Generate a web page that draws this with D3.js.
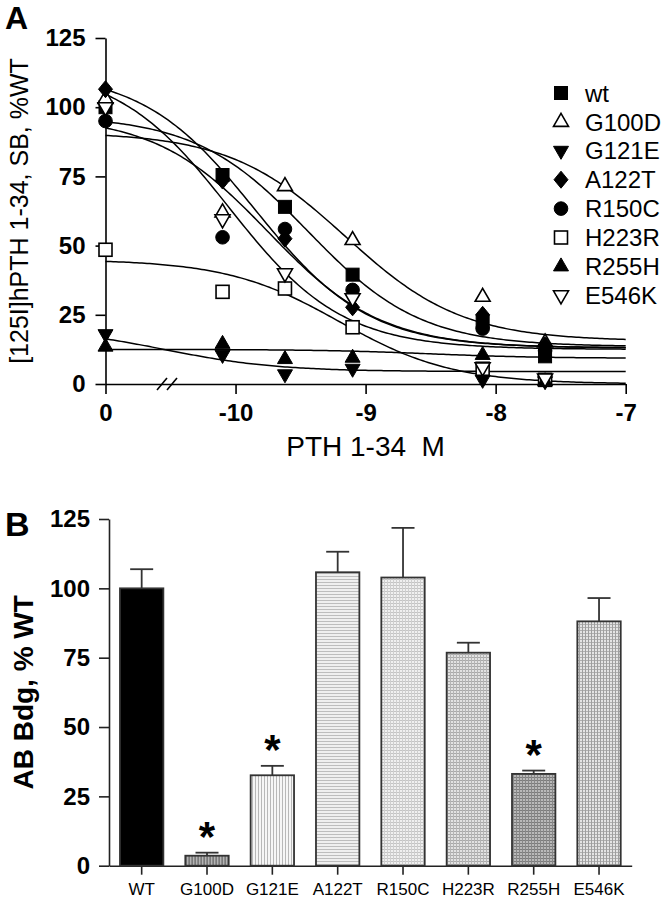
<!DOCTYPE html>
<html><head><meta charset="utf-8">
<script src="https://cdn.jsdelivr.net/npm/d3@7"></script>
<style>
html,body{margin:0;padding:0;background:#fff;}
svg{display:block;font-family:"Liberation Sans",Arial,Helvetica,sans-serif;}
</style></head>
<body>
<svg id="c" width="666" height="899"></svg>
<script>
// ---------- Panel A data ----------
const doseLog = [-11, -10.1, -9.62, -9.1, -8.1, -7.62];   // -11 is plotted at the "0" position
const seriesNames = ["wt","G100D","G121E","A122T","R150C","H223R","R255H","E546K"];
const wtVals    = [100, 75.5, 64, 39.5, 22.5, 10];
const g100dVals = [103, 62, 71.5, 52, 31.5, 15];
const g121eVals = [18, 10.5, 3.5, 5.5, 1.5, 1];
const a122tVals = [106.5, 73.5, 52.5, 27.7, 25, 14];
const r150cVals = [95, 53, 56, 34, 20, 12];
const h223rVals = [48.5, 33.3, 34.5, 20.5, 5.5, 1.5];
const r255hVals = [13.5, 14.5, 9, 9.5, 10.5, 1];
const e546kVals = [100, 59.5, 40, 31, 6, 2];
// fitted curve parameters: [top, bottom, logEC50, hill]
const wtFit    = [97, 13.5, -9.445, 1.0];
const g100dFit = [91, 15.5, -9.154, 0.97];
const g121eFit = [20.5, 4.5, -10.55, 1.0];
const a122tFit = [113, 13, -9.85, 1.0];
const r150cFit = [97, 13, -9.75, 1.0];
const h223rFit = [45, 0, -9.2, 1.0];
const r255hFit = [12.5, 9.3, -8.5, 1.0];
const e546kFit = [115, 12.5, -10.05, 1.0];
const markerTypes = ["square","triUpOpen","triDown","diamond","circle","squareOpen","triUp","triDownOpen"];
const yTicksA = [0, 25, 50, 75, 100, 125];
const xTicksA = [-11, -10, -9, -8, -7];
const xTickLabelsA = ["0", "-10", "-9", "-8", "-7"];

// ---------- Panel B data ----------
const barCats = ["WT","G100D","G121E","A122T","R150C","H223R","R255H","E546K"];
const barMeans = [100, 3.6, 32.6, 105.8, 103.9, 76.8, 33.1, 88.1];
const barSem   = [6.9, 1.1, 3.4, 7.4, 17.9, 3.6, 1.2, 8.4];
const barSig   = [false, true, true, false, false, false, true, false];
const yTicksB = [0, 25, 50, 75, 100, 125];

const svg = d3.select("#c");
const FONT = '"Liberation Sans",Arial,Helvetica,sans-serif';

// ================= PANEL A =================
const xA = d3.scaleLinear().domain([-11, -7]).range([105.5, 625.7]);
const yA = d3.scaleLinear().domain([0, 125]).range([384, 38]);

const gA = svg.append("g");
const axYA = gA.append("g").attr("transform", `translate(${xA.range()[0]},0)`)
  .call(d3.axisLeft(yA).tickValues(yTicksA).tickSize(10).tickPadding(10).tickSizeOuter(0));
const axXA = gA.append("g").attr("transform", `translate(0,${yA(0)})`)
  .call(d3.axisBottom(xA).tickValues(xTicksA).tickFormat((d,i)=>xTickLabelsA[i]).tickSize(10).tickPadding(10).tickSizeOuter(0));
[axYA, axXA].forEach(a=>{
  a.selectAll("path,line").attr("stroke","#000").attr("stroke-width",1.6);
  a.selectAll("text").attr("font-family",FONT).attr("font-size",24).attr("font-weight","bold").attr("fill","#000");
});
// axis break marks
[0, 10].forEach(off=>{
  gA.append("line").attr("x1", 157+off).attr("y1", yA(0)+6).attr("x2", 167+off).attr("y2", yA(0)-6)
    .attr("stroke","#000").attr("stroke-width",1.6);
});

// titles
gA.append("text").attr("x",5).attr("y",29).attr("font-size",32).attr("font-weight","bold").text("A");
gA.append("text").attr("transform",`translate(28,${(yA(0)+yA(125))/2}) rotate(-90)`)
  .attr("text-anchor","middle").attr("font-size",25).text("[125I]hPTH 1-34, SB, %WT");
gA.append("text").attr("x",(xA.range()[0]+xA.range()[1])/2).attr("y",456).attr("text-anchor","middle")
  .attr("font-size",28).attr("xml:space","preserve").style("white-space","pre").text("PTH 1-34  M");

const allVals = [wtVals,g100dVals,g121eVals,a122tVals,r150cVals,h223rVals,r255hVals,e546kVals];
const allFits = [wtFit,g100dFit,g121eFit,a122tFit,r150cFit,h223rFit,r255hFit,e546kFit];

function logistic(p, x){ return p[1] + (p[0]-p[1])/(1+Math.pow(10,(x-p[2])*p[3])); }
const xs = d3.range(0, 201).map(i => -11 + i*4/200);
const line = d3.line().x(d=>xA(d[0])).y(d=>yA(d[1])).curve(d3.curveLinear);
allFits.forEach(p=>{
  gA.append("path").datum(xs.map(x=>[x, logistic(p,x)])).attr("d", line)
    .attr("fill","none").attr("stroke","#000").attr("stroke-width",1.5);
});

function marker(g, type, cx, cy){
  const open = /Open/.test(type);
  const fill = open ? "#fff" : "#000";
  let el;
  if (type.startsWith("square")) {
    el = g.append("rect").attr("x",cx-6.5).attr("y",cy-6.5).attr("width",13).attr("height",13);
  } else if (type === "circle") {
    el = g.append("circle").attr("cx",cx).attr("cy",cy).attr("r",6.8);
  } else if (type.startsWith("triUp")) {
    el = g.append("path").attr("d",`M${cx},${cy-8.5}L${cx+7.5},${cy+4.5}L${cx-7.5},${cy+4.5}Z`);
  } else if (type.startsWith("triDown")) {
    el = g.append("path").attr("d",`M${cx},${cy+8.5}L${cx+7.5},${cy-4.5}L${cx-7.5},${cy-4.5}Z`);
  } else if (type === "diamond") {
    el = g.append("path").attr("d",`M${cx},${cy-8.5}L${cx+7},${cy}L${cx},${cy+8.5}L${cx-7},${cy}Z`);
  }
  el.attr("fill",fill).attr("stroke","#000").attr("stroke-width",open?1.6:1);
}
allVals.forEach((vals,si)=>{
  vals.forEach((v,i)=> marker(gA, markerTypes[si], xA(doseLog[i]), yA(v)));
});

// legend
seriesNames.forEach((n,i)=>{
  const y = 93 + i*28.9;
  marker(gA, markerTypes[i], 561, y);
  gA.append("text").attr("x",585).attr("y",y).attr("dy","0.36em").attr("font-size",24).text(n);
});

// ================= PANEL B =================
const xB = d3.scaleBand().domain(barCats).range([109, 631.7]).paddingInner(0.336).paddingOuter(0.168);
const yB = d3.scaleLinear().domain([0,125]).range([865.7, 519]);
const gB = svg.append("g");

// patterns
const defs = svg.append("defs");
function pat(id, bg, lines, w, h){
  const p = defs.append("pattern").attr("id",id).attr("patternUnits","userSpaceOnUse").attr("width",w).attr("height",h);
  p.append("rect").attr("width",w).attr("height",h).attr("fill",bg);
  lines.forEach(l=> p.append("rect").attr("x",l[0]).attr("y",l[1]).attr("width",l[2]).attr("height",l[3]).attr("fill",l[4]));
}
pat("pWT", "#000", [], 4, 4);
pat("pG100D", "#b4b4b4", [[0,0,1,3,"#7a7a7a"],[2,0,1,3,"#8c8c8c"]], 3, 3);
pat("pG121E", "#f6f6f6", [[0,0,1,3,"#b8b8b8"]], 3, 3);
pat("pA122T", "#efefef", [[0,0,3,1,"#bdbdbd"]], 3, 3);
pat("pR150C", "#f0f0f0", [[0,0,3,1,"#c4c4c4"],[0,0,1,3,"#cfcfcf"]], 3, 3);
pat("pH223R", "#e2e2e2", [[0,0,3,1,"#a9a9a9"],[0,0,1,3,"#b5b5b5"]], 3, 3);
pat("pR255H", "#b9b9b9", [[0,0,3,1,"#7c7c7c"],[0,0,1,3,"#888"]], 3, 3);
pat("pE546K", "#e4e4e4", [[0,0,3,1,"#b0b0b0"],[0,0,1,3,"#9e9e9e"]], 3, 3);

const axYB = gB.append("g").attr("transform",`translate(109,0)`)
  .call(d3.axisLeft(yB).tickValues(yTicksB).tickSize(10).tickPadding(9).tickSizeOuter(0));
const axXB = gB.append("g").attr("transform",`translate(0,${yB(0)})`)
  .call(d3.axisBottom(xB).tickSize(9).tickPadding(8).tickSizeOuter(0));
axYB.selectAll("path,line").attr("stroke","#222").attr("stroke-width",1.6);
axYB.selectAll("text").attr("font-family",FONT).attr("font-size",24).attr("font-weight","bold").attr("fill","#000");
axXB.selectAll("path,line").attr("stroke","#222").attr("stroke-width",1.6);
axXB.selectAll("text").attr("font-family",FONT).attr("font-size",17).attr("fill","#000");

gB.append("text").attr("x",5).attr("y",536).attr("font-size",34).attr("font-weight","bold").text("B");
gB.append("text").attr("transform",`translate(33,${(yB(0)+yB(125))/2}) rotate(-90)`)
  .attr("text-anchor","middle").attr("font-size",28).attr("font-weight","bold").text("AB Bdg, % WT");

barCats.forEach((c,i)=>{
  const x0 = xB(c), bw = xB.bandwidth(), cx = x0 + bw/2;
  const top = yB(barMeans[i]), errTop = yB(barMeans[i]+barSem[i]);
  gB.append("line").attr("x1",cx).attr("x2",cx).attr("y1",top).attr("y2",errTop).attr("stroke","#333").attr("stroke-width",1.8);
  gB.append("line").attr("x1",cx-11.5).attr("x2",cx+11.5).attr("y1",errTop).attr("y2",errTop).attr("stroke","#333").attr("stroke-width",1.8);
  gB.append("rect").attr("x",x0).attr("y",top).attr("width",bw).attr("height",yB(0)-top)
    .attr("fill",`url(#p${c})`).attr("stroke","#333").attr("stroke-width",1.8);
  if (barSig[i]) {
    gB.append("text").attr("x",cx).attr("y",errTop - 2).attr("text-anchor","middle")
      .attr("font-size",42).attr("font-weight","bold").text("*");
  }
});
</script>
</body></html>
